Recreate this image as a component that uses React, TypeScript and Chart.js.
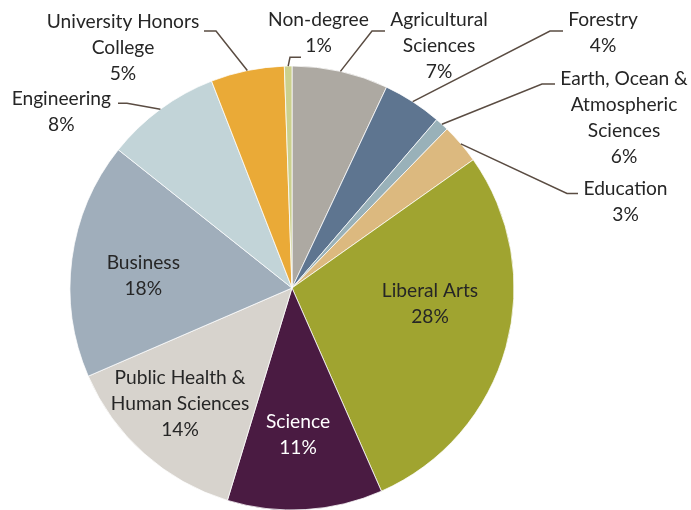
import React, { useEffect, useRef } from "react";
import { Chart, registerables } from "chart.js";

Chart.register(...registerables);

const categories = [
  "Agricultural Sciences",
  "Forestry",
  "Earth, Ocean & Atmospheric Sciences",
  "Education",
  "Liberal Arts",
  "Science",
  "Public Health & Human Sciences",
  "Business",
  "Engineering",
  "University Honors College",
  "Non-degree",
];

const shares = [7, 4.3, 1, 2.9, 28.2, 11.3, 13.8, 17.2, 8.4, 5.35, 0.55];

const percentLabels = ["7%", "4%", "6%", "3%", "28%", "11%", "14%", "18%", "8%", "5%", "1%"];

const labelLines = [
  ["Agricultural", "Sciences"],
  ["Forestry"],
  ["Earth, Ocean &", "Atmospheric", "Sciences"],
  ["Education"],
  ["Liberal Arts"],
  ["Science"],
  ["Public Health &", "Human Sciences"],
  ["Business"],
  ["Engineering"],
  ["University Honors", "College"],
  ["Non-degree"],
];

const sliceColors = [
  "#ADA9A2",
  "#5E7590",
  "#99B1B9",
  "#DCB97F",
  "#A0A430",
  "#4A1B42",
  "#D7D3CD",
  "#A0AEBB",
  "#C2D4D8",
  "#EAAA37",
  "#CBD08D",
];

// label placement (styling/layout only)
type Place = { x: number; y: number; color?: string; elbow?: [number, number]; end?: [number, number] };
const placements: Place[] = [
  { x: 439, y: 20, elbow: [372, 31], end: [385, 31] },
  { x: 603, y: 19.5, elbow: [550, 31], end: [563, 31] },
  { x: 624, y: 79, elbow: [542, 84], end: [555, 84] },
  { x: 625.5, y: 189, elbow: [567, 193.5], end: [578, 193.5] },
  { x: 430, y: 291 },
  { x: 298, y: 421.5, color: "#FFFFFF" },
  { x: 180, y: 378.3 },
  { x: 143.3, y: 263.3 },
  { x: 61.3, y: 99, elbow: [127, 103.3], end: [118, 103.3] },
  { x: 123, y: 21.7, elbow: [216, 31], end: [204, 31] },
  { x: 318.5, y: 20, elbow: [290, 57.3], end: [301, 57.3] },
];

const FONT_FAMILY = "Lato, 'Open Sans', sans-serif";
const LINE_H = 26;

const labelPlugin = {
  id: "sliceLabels",
  afterDatasetsDraw(chart: any) {
    const ctx: CanvasRenderingContext2D = chart.ctx;
    const meta = chart.getDatasetMeta(0);
    ctx.save();
    ctx.font = `100px ${FONT_FAMILY}`;
    const w100 = ctx.measureText("University Honors").width;
    const size = (100 * 152.6) / w100;
    ctx.font = `${size.toFixed(2)}px ${FONT_FAMILY}`;
    ctx.textAlign = "center";
    ctx.textBaseline = "middle";
    meta.data.forEach((arc: any, i: number) => {
      const p = placements[i];
      if (!p) return;
      if (p.elbow && p.end) {
        const { x, y, startAngle, endAngle, outerRadius } = arc.getProps(
          ["x", "y", "startAngle", "endAngle", "outerRadius"],
          true
        );
        const mid = (startAngle + endAngle) / 2;
        const sx = x + Math.cos(mid) * outerRadius;
        const sy = y + Math.sin(mid) * outerRadius;
        ctx.beginPath();
        ctx.strokeStyle = "#5A4C42";
        ctx.lineWidth = 1.5;
        ctx.moveTo(sx, sy);
        ctx.lineTo(p.elbow[0], p.elbow[1]);
        ctx.lineTo(p.end[0], p.end[1]);
        ctx.stroke();
      }
      ctx.fillStyle = p.color || "#262626";
      const lines = [...labelLines[i], percentLabels[i]];
      lines.forEach((t, k) => ctx.fillText(t, p.x, p.y + k * LINE_H));
    });
    ctx.restore();
  },
};

export default function App() {
  const ref = useRef<HTMLCanvasElement | null>(null);
  useEffect(() => {
    if (!ref.current) return;
    const chart = new Chart(ref.current, {
      type: "pie",
      data: {
        labels: categories,
        datasets: [
          {
            data: shares,
            backgroundColor: sliceColors,
            borderColor: "#FFFFFF",
            borderWidth: 0.75,
            radius: 222,
          } as any,
        ],
      },
      options: {
        responsive: false,
        animation: false,
        layout: { padding: { left: 0, right: 107, top: 66, bottom: 0 } },
        plugins: {
          legend: { display: false },
          tooltip: { enabled: false },
        },
      },
      plugins: [labelPlugin],
    });
    return () => chart.destroy();
  }, []);
  return (
    <div style={{ position: "fixed", left: 0, top: 0, width: 691, height: 510, background: "#fff" }}>
      <canvas ref={ref} width={691} height={510} />
    </div>
  );
}
